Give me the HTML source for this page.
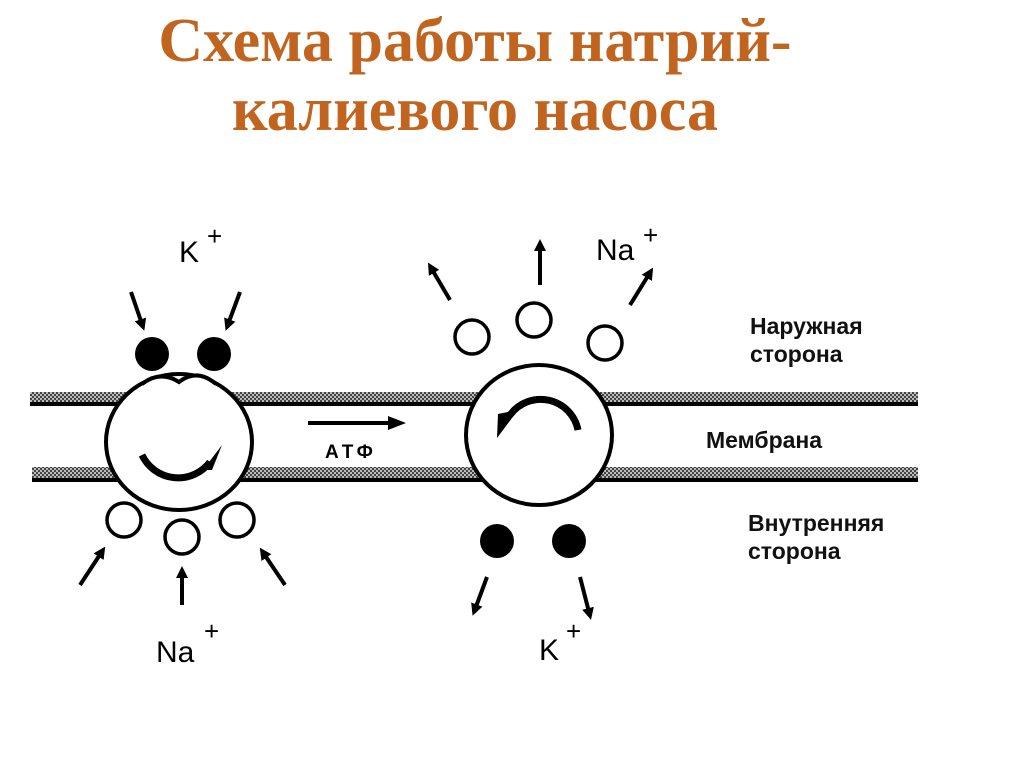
<!DOCTYPE html>
<html><head><meta charset="utf-8"><style>
html,body{margin:0;padding:0;background:#fff;width:1024px;height:767px;overflow:hidden}
.t{position:absolute;left:-37px;width:1024px;text-align:center;font-family:"Liberation Serif","Noto Serif CJK SC",serif;font-weight:bold;color:#c0641f;font-size:62px;line-height:70px}
</style></head><body>
<div class="t" style="top:6px">Схема работы натрий-</div>
<div class="t" style="top:75px">калиевого насоса</div>
<svg width="1024" height="767" style="position:absolute;left:0;top:0" font-family="Liberation Sans, DejaVu Sans, sans-serif">
<defs>
<pattern id="h" width="4" height="4" patternUnits="userSpaceOnUse"><rect width="4" height="4" fill="#bbb"/><rect width="2" height="2" fill="#444"/><rect x="2" y="2" width="2" height="2" fill="#444"/></pattern>
<marker id="a" markerWidth="12" markerHeight="12" refX="8" refY="6" orient="auto" markerUnits="userSpaceOnUse"><path d="M0,0 L12,6 L0,12 Z" fill="#000"/></marker>
<marker id="b" markerWidth="18" markerHeight="14" refX="12" refY="7" orient="auto" markerUnits="userSpaceOnUse"><path d="M0,0 L18,7 L0,14 Z" fill="#000"/></marker>
</defs>
<rect x="30" y="392" width="888" height="11" fill="url(#h)"/><rect x="30" y="402" width="888" height="4" fill="#000"/>
<rect x="32" y="467" width="886" height="12" fill="url(#h)"/><rect x="32" y="478" width="886" height="4" fill="#000"/>
<!-- left protein -->
<ellipse cx="179" cy="442" rx="73" ry="68" fill="#fff" stroke="#000" stroke-width="4"/>
<path d="M142,384 q18,-14 37,-2 q18,-14 37,2" fill="#fff" stroke="#000" stroke-width="4"/>
<path d="M142,455 A40,40 0 0 0 210,462" fill="none" stroke="#000" stroke-width="7"/>
<path d="M203,470 L222,445 L212,470 Z" fill="#000"/>
<circle cx="152" cy="354" r="17" fill="#000"/><circle cx="214" cy="354" r="17" fill="#000"/>
<circle cx="124" cy="520" r="17" fill="#fff" stroke="#000" stroke-width="3.5"/>
<circle cx="182" cy="537" r="17" fill="#fff" stroke="#000" stroke-width="3.5"/>
<circle cx="237" cy="520" r="17" fill="#fff" stroke="#000" stroke-width="3.5"/>
<!-- right protein -->
<ellipse cx="539" cy="435" rx="73" ry="70" fill="#fff" stroke="#000" stroke-width="4"/>
<path d="M578,430 A38,38 0 0 0 510,415" fill="none" stroke="#000" stroke-width="7"/>
<path d="M498,414 L518,410 L497,438 Z" fill="#000"/>
<circle cx="472" cy="337" r="17" fill="#fff" stroke="#000" stroke-width="3.5"/>
<circle cx="534" cy="320" r="17" fill="#fff" stroke="#000" stroke-width="3.5"/>
<circle cx="605" cy="343" r="17" fill="#fff" stroke="#000" stroke-width="3.5"/>
<circle cx="497" cy="541" r="17" fill="#000"/><circle cx="569" cy="541" r="17" fill="#000"/>
<line x1="308" y1="423" x2="400" y2="423" stroke="#000" stroke-width="4" marker-end="url(#b)"/>
<text x="325" y="458" font-size="19" font-weight="bold" letter-spacing="4">АТФ</text>
<g stroke="#000" stroke-width="4" marker-end="url(#a)">
<line x1="131" y1="292" x2="143" y2="327"/><line x1="240" y1="292" x2="227" y2="327"/>
<line x1="80" y1="585" x2="103" y2="550"/><line x1="182" y1="605" x2="182" y2="570"/><line x1="285" y1="585" x2="262" y2="551"/>
<line x1="450" y1="300" x2="430" y2="266"/><line x1="540" y1="285" x2="540" y2="243"/><line x1="630" y1="305" x2="651" y2="271"/>
<line x1="487" y1="577" x2="474" y2="612"/><line x1="580" y1="577" x2="590" y2="616"/>
</g>
<g font-size="30">
<text x="179" y="262">K</text><text x="207" y="245" font-size="26">+</text>
<text x="596" y="260">Na</text><text x="643" y="244" font-size="26">+</text>
<text x="156" y="662">Na</text><text x="204" y="640" font-size="26">+</text>
<text x="539" y="660">K</text><text x="566" y="640" font-size="26">+</text>
</g>
<g font-size="23" font-weight="bold" fill="#111">
<text x="750" y="334">Наружная</text><text x="750" y="362">сторона</text>
<text x="706" y="448">Мембрана</text>
<text x="748" y="531">Внутренняя</text><text x="748" y="559">сторона</text>
</g>
</svg>
</body></html>
